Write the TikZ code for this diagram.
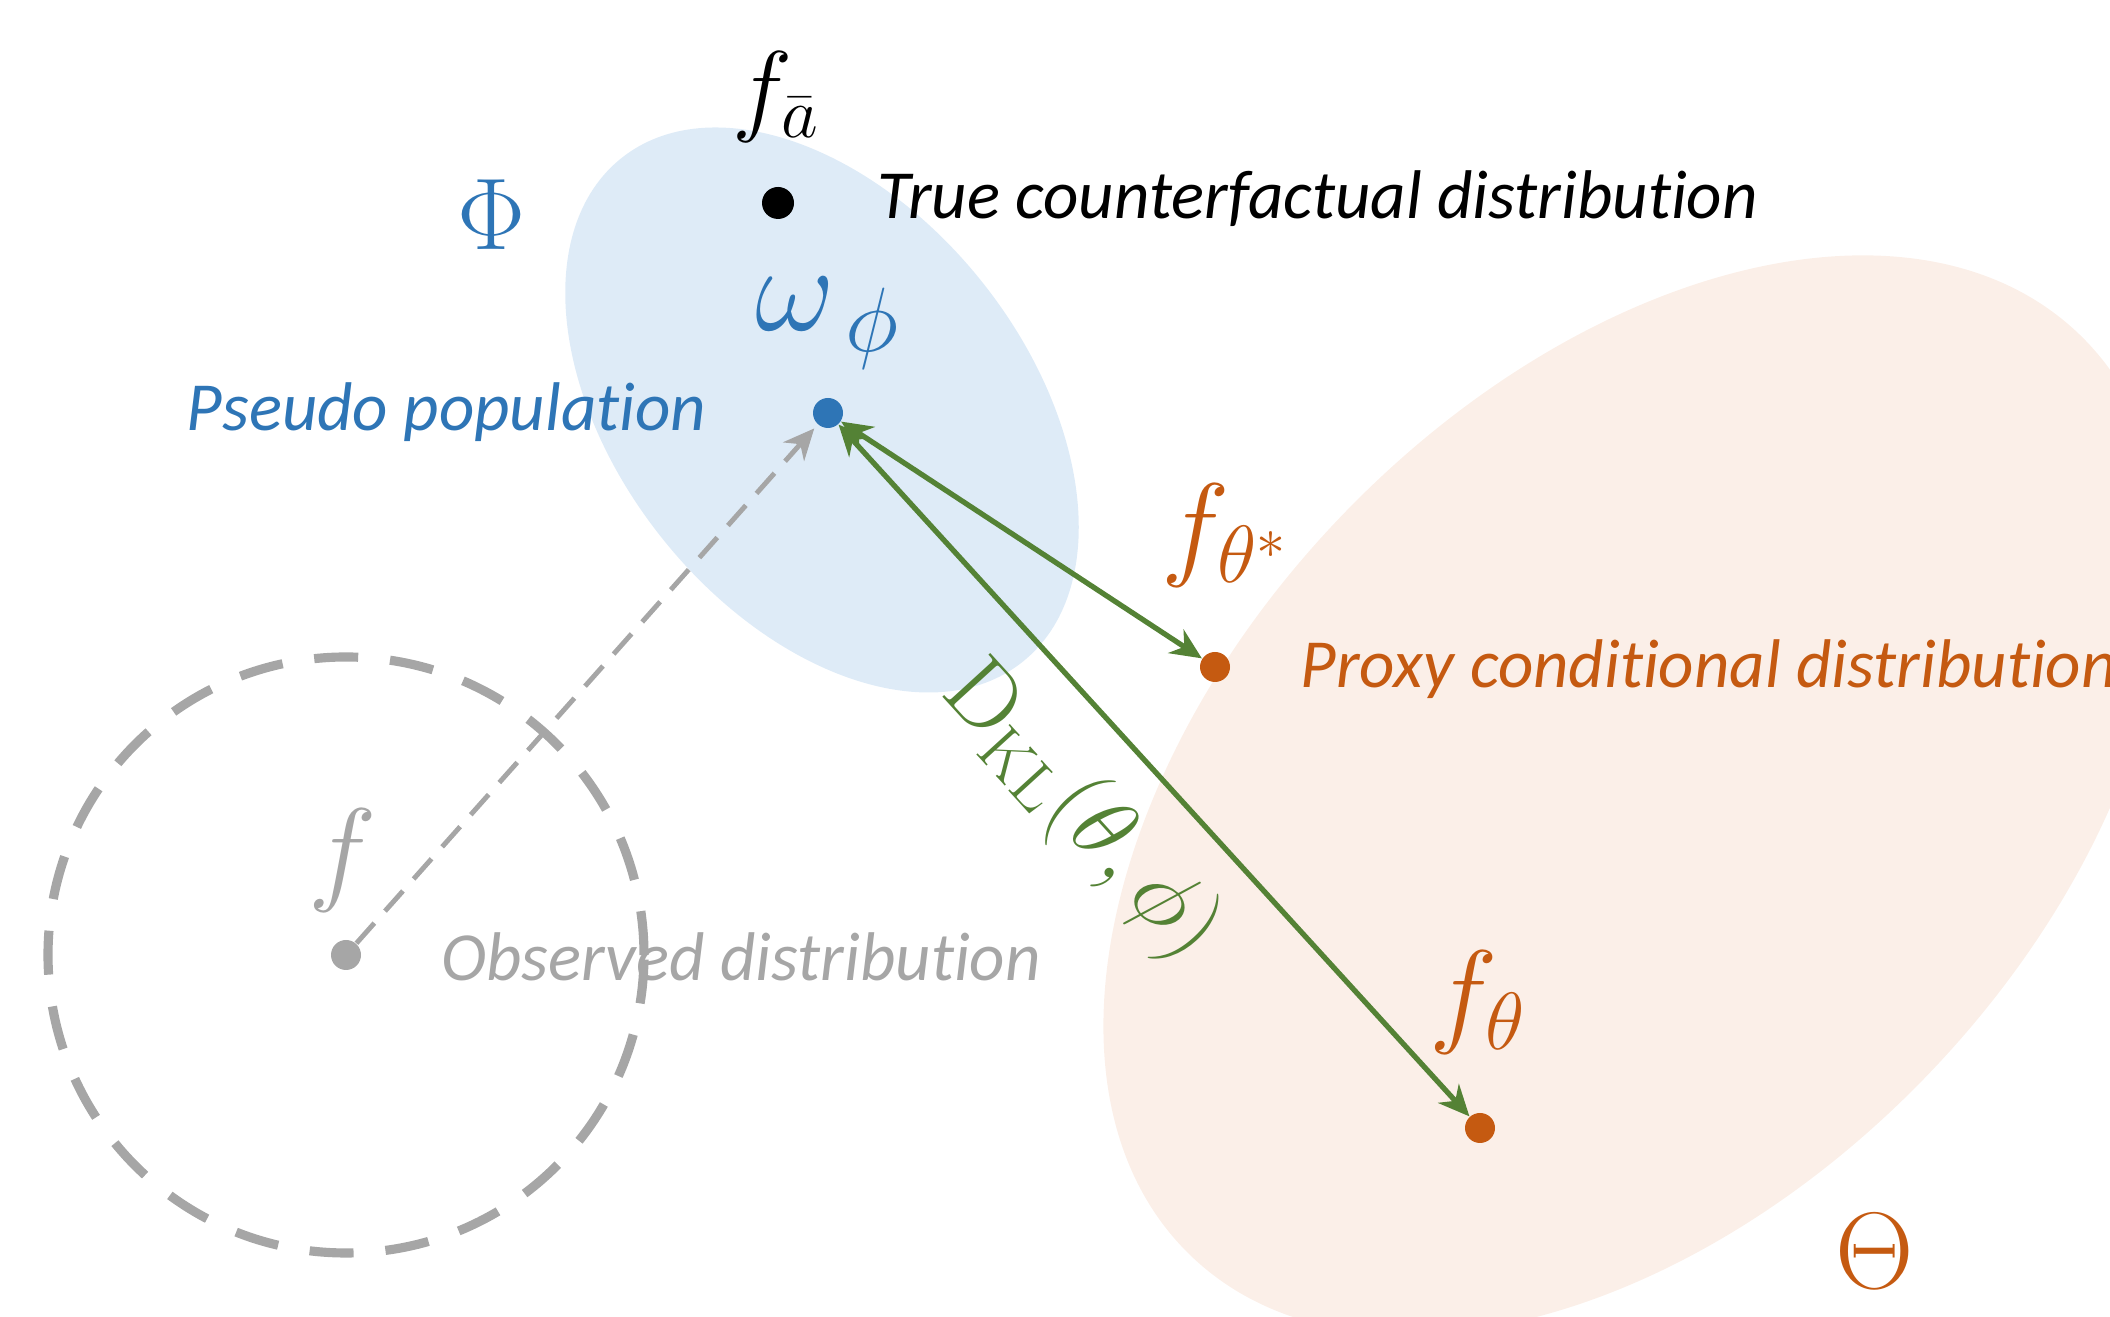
\RequirePackage{fix-cm}
\documentclass[tikz,border=0pt]{standalone}
\usepackage[no-math]{fontspec}
\setmainfont{Carlito}[Ligatures={NoCommon}]
\usepackage{xcolor}
\usepackage{tikz}
\usetikzlibrary{arrows.meta}
\definecolor{phiazul}{HTML}{2E75B6}
\definecolor{phifondo}{HTML}{DEEBF7}
\definecolor{thetanaranja}{HTML}{C55A11}
\definecolor{thetafondo}{HTML}{FBEFE8}
\definecolor{klverde}{HTML}{548235}
\definecolor{grisobs}{HTML}{A6A6A6}

\begin{document}
\begin{tikzpicture}[
    every node/.style={inner sep=0pt},
    txt/.style={font=\fontsize{19.6}{23}\selectfont\itshape, anchor=west},
    mlbl/.style={font=\fontsize{33}{38}\selectfont},
    dot/.style={circle, fill, minimum size=0.3cm},
    punta/.tip={Stealth[length=0.31cm, width=0.28cm, inset=0.1cm]},
    klflecha/.style={{punta}-{punta}, line width=1.5pt, color=klverde}
]
\useasboundingbox (0,0) rectangle (21.1,13.17);
\clip (0,0) rectangle (21.1,13.17);

\fill[thetafondo, rotate around={46:(16.35,5.22)}]
    (16.35,5.22) ellipse [x radius=6.4, y radius=4.05];
\fill[phifondo, rotate around={-51.5:(8.22,9.07)}]
    (8.22,9.07) ellipse [x radius=3.22, y radius=2.05];

\node[dot, fill=black, minimum size=0.32cm] (truedot) at (7.78,11.14) {};
\node[dot, fill=phiazul] (pseudo) at (8.28,9.04) {};
\node[dot, fill=thetanaranja] (fstar) at (12.15,6.50) {};
\node[dot, fill=thetanaranja] (ftheta) at (14.80,1.89) {};
\node[dot, fill=grisobs] (obs) at (3.46,3.62) {};

\node[mlbl, font=\fontsize{29}{34}\selectfont] (fbar) at (7.76,12.2) {$f_{\bar{a}}$};
\node[mlbl, font=\fontsize{29}{34}\selectfont, text=phiazul] (Phi) at (4.92,11.02) {$\Phi$};
\node[txt] (truetxt) at (8.77,11.18) {True counterfactual distribution};
\node[mlbl, font=\fontsize{35}{40}\selectfont, text=phiazul] (omega) at (8.28,9.94)
    {$\omega_{\,\mbox{\fontsize{26}{30}\selectfont$\phi$}}$};
\node[txt, anchor=east, text=phiazul] (pseudotxt) at (7.07,9.05) {Pseudo population};
\node[mlbl, text=thetanaranja] (fstarlbl) at (12.25,7.81) {$f_{\theta^*}$};
\node[txt, text=thetanaranja] (proxytxt) at (13.0,6.48) {Proxy conditional distribution};
\node[mlbl, text=thetanaranja] (fthetalbl) at (14.78,3.14) {$f_\theta$};
\node[mlbl, font=\fontsize{31}{36}\selectfont, text=thetanaranja] (Theta) at (18.75,0.66) {$\Theta$};
\node[mlbl, text=grisobs] (flbl) at (3.43,4.56) {$f$};
\node[txt, text=grisobs] (obstxt) at (4.41,3.60) {Observed distribution};

\draw[grisobs, line width=2.6pt, dash pattern=on 0.44cm off 0.32cm]
    (obs.center) circle [radius=2.98];
\draw[grisobs, line width=1.4pt, dash pattern=on 0.27cm off 0.16cm, -{punta}, shorten >=0.05cm]
    (obs) -- (pseudo);
\draw[klflecha] (pseudo) -- (fstar);
\draw[klflecha] (pseudo) -- (ftheta)
    node[pos=0.48, sloped, below=0.33cm, font=\fontsize{27}{32}\selectfont, text=klverde] (dkl)
    {$\mathrm{D}_{\mathrm{KL}}(\theta,\phi)$};
\end{tikzpicture}
\end{document}
